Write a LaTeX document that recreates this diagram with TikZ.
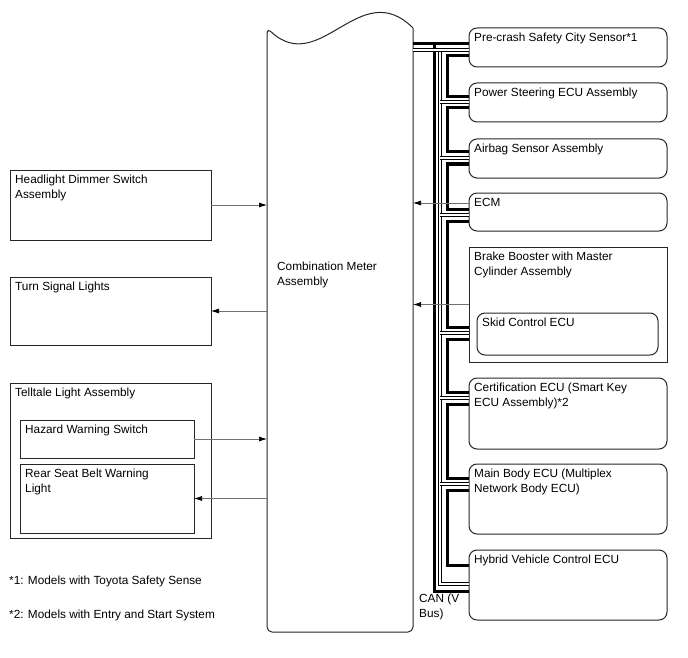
\documentclass[tikz,border=0pt]{standalone}
\usepackage{fontspec}
\setmainfont{Liberation Sans}
\usetikzlibrary{positioning, arrows.meta}

\begin{document}
\begin{tikzpicture}[
    x=1pt, y=-1pt,
    node distance=16pt,
    txt/.style={font=\fontsize{11.8}{14.5}\selectfont, align=left, inner sep=0pt, anchor=north west},
    lbl/.style={txt, xshift=5pt, yshift=-5pt},
    sw/.style={rectangle, draw=black!85, line width=1pt, outer sep=0pt, minimum width=201pt, anchor=north west},
    inbox/.style={sw, minimum width=174pt},
    ecu/.style={rectangle, rounded corners=8pt, draw=black!85, line width=1pt, outer sep=0pt, minimum width=198pt, anchor=north west},
    sig/.style={draw=black!55, line width=0.7pt, -{Latex[length=8pt,width=5pt,color=black]}},
    canhi/.style={line width=3pt},
    canlo/.style={double, line width=1.1pt, double distance=2pt}
]
\useasboundingbox (0,0) rectangle (688,658);

% left side
\node[sw, minimum height=70pt, label={[lbl]north west:Headlight Dimmer Switch\\Assembly}] (hds) at (10,170) {};
\node[sw, minimum height=68pt, below=37pt of hds, label={[lbl]north west:Turn Signal Lights}] (tsl) {};
\node[sw, minimum height=155pt, below=38pt of tsl, label={[lbl]north west:Telltale Light Assembly}] (tla) {};
\node[inbox, minimum height=38pt, below right=37pt and 10pt of tla.north west, label={[lbl]north west:Hazard Warning Switch}] (hws) {};
\node[inbox, minimum height=69pt, below=6pt of hws, label={[lbl]north west:Rear Seat Belt Warning\\Light}] (rsb) {};

% combination meter
\node[minimum width=146pt, minimum height=604pt, inner sep=0pt, outer sep=0pt, anchor=north west] (meter) at (267,28) {};
\draw[line width=1pt, black!85] (meter.north west) .. controls +(53,50) and +(-53,-53) .. (meter.north east)
    [rounded corners=5pt] -- (meter.south east) -- (meter.south west) -- cycle;
\node[txt] (metertxt) at (277,262) {Combination Meter\\Assembly};

% right side
\node[ecu, minimum height=39pt, label={[lbl]north west:Pre-crash Safety City Sensor*1}] (pcs) at (469,28) {};
\node[ecu, minimum height=39pt, below=16pt of pcs, label={[lbl]north west:Power Steering ECU Assembly}] (ps) {};
\node[ecu, minimum height=39pt, below=17pt of ps, label={[lbl]north west:Airbag Sensor Assembly}] (ab) {};
\node[ecu, minimum height=38pt, below=15pt of ab, label={[lbl]north west:ECM}] (ecm) {};
\node[sw, minimum width=198pt, minimum height=115pt, below=16pt of ecm, label={[lbl]north west:Brake Booster with Master\\Cylinder Assembly}] (bb) {};
\node[ecu, minimum width=181pt, minimum height=42pt, below right=66pt and 8pt of bb.north west, label={[lbl]north west:Skid Control ECU}] (skid) {};
\node[ecu, minimum height=71pt, below=16pt of bb, label={[lbl]north west:Certification ECU (Smart Key\\ECU Assembly)*2}] (cert) {};
\node[ecu, minimum height=70pt, below=15pt of cert, label={[lbl]north west:Main Body ECU (Multiplex\\Network Body ECU)}] (mb) {};
\node[ecu, minimum height=70pt, below=16pt of mb, label={[lbl]north west:Hybrid Vehicle Control ECU}] (hv) {};

% CAN bus
\coordinate (busH) at (434,44);
\coordinate (busL) at (440,50);
\coordinate (busB) at (447,0);
\draw[canhi] (meter.east |- busH) -- (pcs.west |- busH);
\draw[canhi] (busH) -- (busH |- 0,591) -- (hv.west |- 0,591);
\foreach \a/\b/\ya/\yb in {pcs/ps/56/97, ps/ab/108/152, ab/ecm/164/209, ecm/bb/221/327, bb/cert/339/392, cert/mb/404/478, mb/hv/490/565}
    \draw[canhi] (\a.west |- 0,\ya) -| (busB |- 0,\yb) -- (\b.west |- 0,\yb);
\draw[canlo] (busL) -- (busL |- 0,584) -- (hv.west |- 0,584);
\draw[canlo] (meter.east |- busL) -- (pcs.west |- busL);
\foreach \n/\y in {ps/102, ab/158, ecm/215, bb/333, cert/398, mb/484}
    \draw[canlo] (busL |- 0,\y) -- (\n.west |- 0,\y);
\node[txt] (canlbl) at (419,594) {CAN (V\\Bus)};

% signals
\draw[sig] (hds.east) -- (hds.east -| meter.west);
\draw[sig] (tsl.east -| meter.west) -- (tsl.east);
\draw[sig] (hws.east) -- (hws.east -| meter.west);
\draw[sig] (rsb.east -| meter.west) -- (rsb.east);
\draw[sig] ([yshift=9pt]ecm.west) -- ([yshift=9pt]ecm.west -| meter.east);
\draw[sig] (bb.west) -- (bb.west -| meter.east);

% notes
\node[txt] (note1) at (9,576) {*1: Models with Toyota Safety Sense};
\node[txt] (note2) at (9,610) {*2: Models with Entry and Start System};

\end{tikzpicture}
\end{document}
